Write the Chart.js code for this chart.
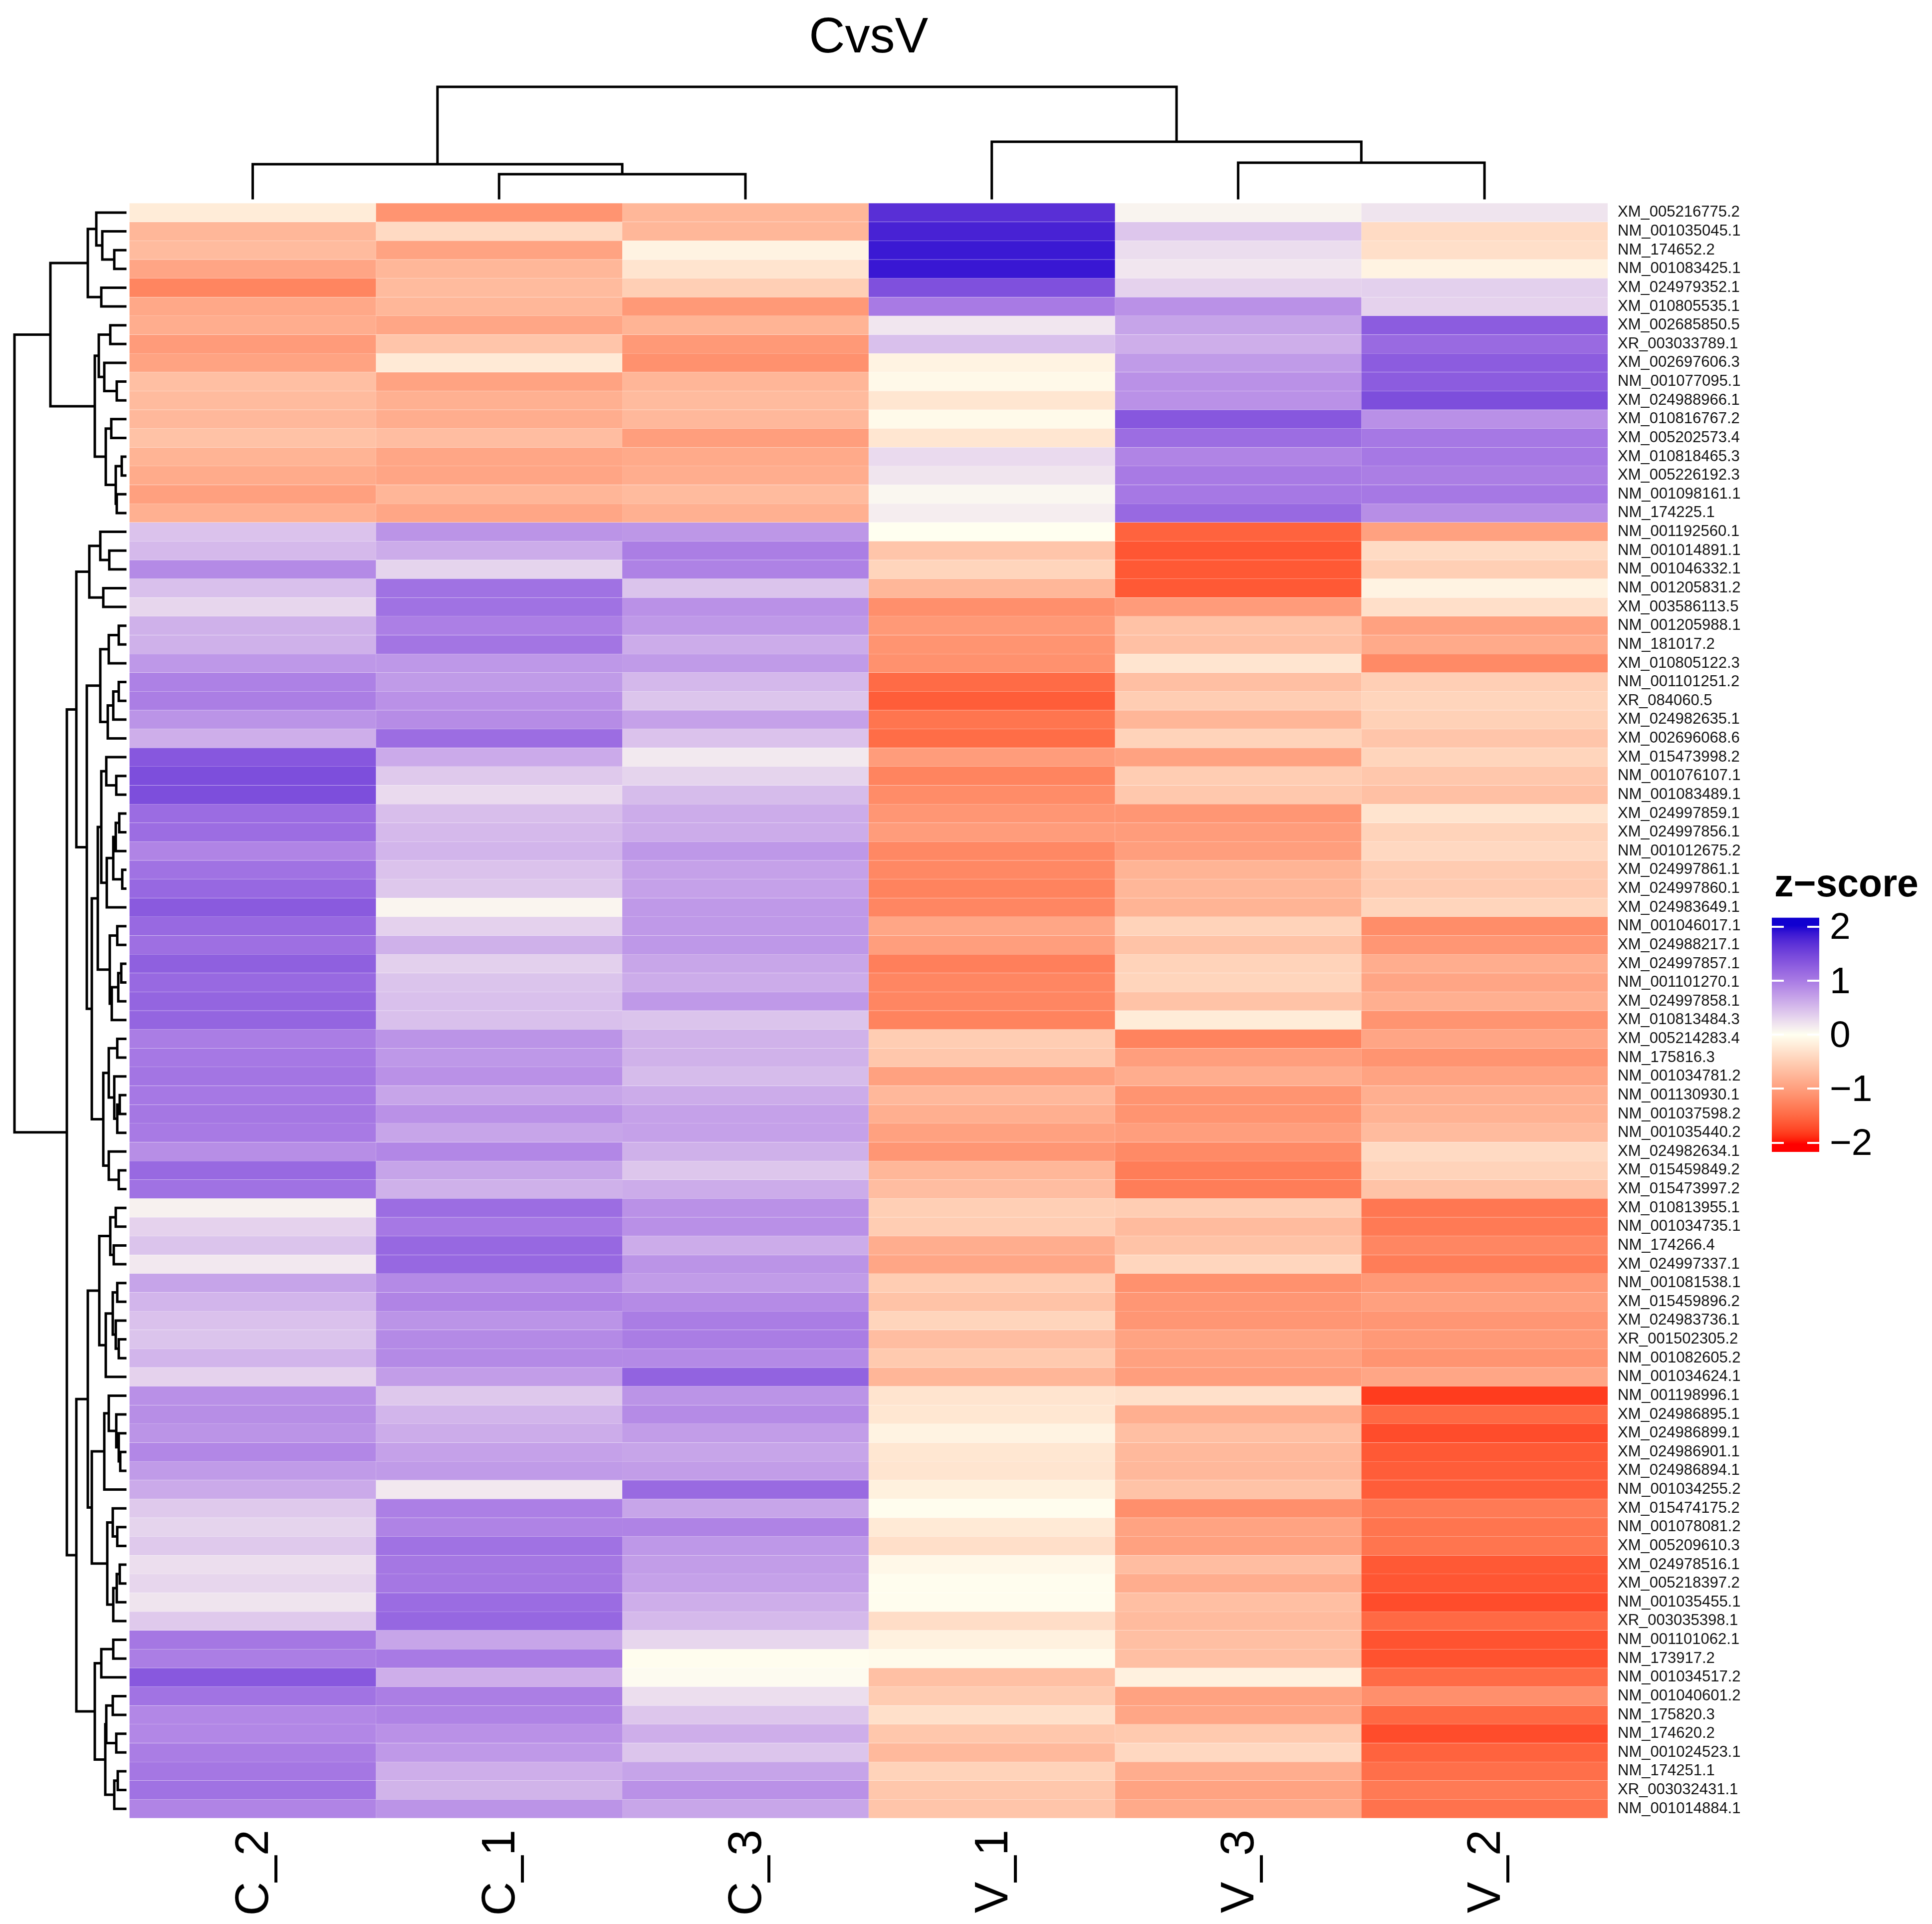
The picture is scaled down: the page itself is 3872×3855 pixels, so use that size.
<!DOCTYPE html>
<html>
<head>
<meta charset="utf-8">
<title>CvsV</title>
<script src="https://cdn.jsdelivr.net/npm/chart.js@4"></script>
<style>
	html, body { margin: 0; padding: 0; background: #fff; }
	canvas { position: absolute; }
	#heat { left: 0; top: 0; }
	#bar { left: 3551px; top: 1729px; }
</style>
</head>
<body>
<canvas id="heat" width="3872" height="3855"></canvas>
<canvas id="bar" width="321" height="611"></canvas>
<script>
const columnNames = ["C_2", "C_1", "C_3", "V_1", "V_3", "V_2"];

const rowNames = [
	"XM_005216775.2", "NM_001035045.1", "NM_174652.2", "NM_001083425.1", "XM_024979352.1", "XM_010805535.1",
	"XM_002685850.5", "XR_003033789.1", "XM_002697606.3", "NM_001077095.1", "XM_024988966.1", "XM_010816767.2",
	"XM_005202573.4", "XM_010818465.3", "XM_005226192.3", "NM_001098161.1", "NM_174225.1", "NM_001192560.1",
	"NM_001014891.1", "NM_001046332.1", "NM_001205831.2", "XM_003586113.5", "NM_001205988.1", "NM_181017.2",
	"XM_010805122.3", "NM_001101251.2", "XR_084060.5", "XM_024982635.1", "XM_002696068.6", "XM_015473998.2",
	"NM_001076107.1", "NM_001083489.1", "XM_024997859.1", "XM_024997856.1", "NM_001012675.2", "XM_024997861.1",
	"XM_024997860.1", "XM_024983649.1", "NM_001046017.1", "XM_024988217.1", "XM_024997857.1", "NM_001101270.1",
	"XM_024997858.1", "XM_010813484.3", "XM_005214283.4", "NM_175816.3", "NM_001034781.2", "NM_001130930.1",
	"NM_001037598.2", "NM_001035440.2", "XM_024982634.1", "XM_015459849.2", "XM_015473997.2", "XM_010813955.1",
	"NM_001034735.1", "NM_174266.4", "XM_024997337.1", "NM_001081538.1", "XM_015459896.2", "XM_024983736.1",
	"XR_001502305.2", "NM_001082605.2", "NM_001034624.1", "NM_001198996.1", "XM_024986895.1", "XM_024986899.1",
	"XM_024986901.1", "XM_024986894.1", "NM_001034255.2", "XM_015474175.2", "NM_001078081.2", "XM_005209610.3",
	"XM_024978516.1", "XM_005218397.2", "NM_001035455.1", "XR_003035398.1", "NM_001101062.1", "NM_173917.2",
	"NM_001034517.2", "NM_001040601.2", "NM_175820.3", "NM_174620.2", "NM_001024523.1", "NM_174251.1",
	"XR_003032431.1", "NM_001014884.1"
];

// z-scores, one list per column, rows top to bottom
const c2Values = [
	-.2, -.75, -.7, -.93, -1.25, -.9, -.85, -1.03, -.95, -.66, -.7, -.73, -.63, -.78, -.87, -.98, -.82,
	.45, .52, .88, .47, .3, .58, .58, .77, .95, .97, .8, .6, 1.33, 1.42, 1.42, 1.13, 1.12,
	.92, 1.08, 1.17, 1.3, 1.16, 1.1, 1.25, 1.16, 1.2, 1.2, .98, 1.02, 1.05, 1.02, 1.03, 1, .85, 1.16, 1.08,
	.1, .33, .44, .17, .68, .55, .46, .44, .55, .33, .83, .85, .8, .9, .75, .63, .4,
	.32, .4, .24, .3, .2, .4, 1.03, .97, 1.32, 1.07, .9, .9, .98, 1.03, 1.08, .92
];
const c1Values = [
	-1.1, -.38, -.95, -.75, -.7, -.75, -.92, -.6, -.22, -.95, -.82, -.85, -.68, -.92, -.93, -.76, -.92,
	.8, .62, .32, 1.08, 1.08, .96, 1.05, .77, .75, .82, .86, 1.12, .63, .4, .27, .48, .52,
	.55, .45, .41, .07, .34, .58, .35, .44, .47, .47, .8, .77, .82, .67, .82, .67, .9, .68, .58,
	1.12, 1.02, 1.17, 1.17, .88, .92, .8, .88, .88, .73, .41, .55, .62, .7, .75, .17, .96,
	.93, 1.08, 1.03, 1.03, 1.13, 1.18, .67, 1, .6, .97, .93, .82, .76, .6, .56, .8
];
const c3Values = [
	-.75, -.75, -.12, -.28, -.5, -1.05, -.78, -1.05, -1.13, -.76, -.7, -.73, -1, -.88, -.85, -.7, -.82,
	.78, .97, .94, .44, .82, .76, .62, .75, .53, .43, .7, .45, .16, .32, .5, .62, .62,
	.77, .7, .7, .76, .76, .77, .66, .62, .76, .44, .57, .57, .5, .62, .7, .7, .58, .42, .62,
	.82, .83, .62, .8, .74, .87, .98, .98, .88, 1.22, .8, .87, .73, .67, .73, 1.15, .67,
	.93, .77, .73, .7, .6, .52, .3, -.02, .03, .24, .42, .6, .43, .68, .82, .66
];
const v1Values = [
	1.7, 1.8, 1.87, 1.88, 1.4, 1, .18, .47, -.12, -.06, -.26, -.05, -.26, .27, .19, .06, .13,
	0, -.6, -.44, -.75, -1.15, -1.05, -1.1, -1.13, -1.48, -1.6, -1.4, -1.47, -1.02, -1.26, -1.18, -1.08, -1.02,
	-1.22, -1.22, -1.27, -1.24, -.92, -1, -1.3, -1.24, -1.24, -1.27, -.52, -.58, -.97, -.73, -.83, -.97, -1.08, -.75, -.68,
	-.5, -.52, -.85, -.92, -.52, -.62, -.44, -.68, -.55, -.76, -.28, -.25, -.12, -.25, -.27, -.15, -.02,
	-.22, -.33, -.07, -.02, -.02, -.35, -.14, -.04, -.65, -.53, -.32, -.58, -.72, -.46, -.58, -.6
];
const v3Values = [
	.08, .42, .25, .18, .33, .82, .68, .6, .75, .82, .82, 1.33, 1.12, .92, 1, 1.02, 1.16,
	-1.55, -1.65, -1.63, -1.63, -1.03, -.63, -.65, -.27, -.66, -.52, -.76, -.46, -.96, -.52, -.57, -1.08, -1.02,
	-1, -.78, -.75, -.78, -.46, -.62, -.46, -.44, -.62, -.2, -1.27, -1, -.85, -1.1, -1.1, -1, -1.2, -1.32, -1.32,
	-.52, -.7, -.62, -.42, -1.13, -1.08, -1.08, -.95, -.97, -1, -.32, -.83, -.66, -.72, -.73, -.62, -1.15,
	-.95, -.97, -.68, -.85, -.66, -.7, -.66, -.66, -.14, -.96, -.92, -.55, -.4, -.85, -.95, -.88
];
const v2Values = [
	.2, -.37, -.33, -.12, .35, .33, 1.28, 1.15, 1.28, 1.28, 1.42, .83, 1.02, 1.02, .97, 1.02, .85,
	-.97, -.37, -.5, -.12, -.33, -.97, -.88, -1.2, -.5, -.44, -.48, -.6, -.44, -.58, -.65, -.28, -.46,
	-.4, -.54, -.54, -.44, -1.17, -1.08, -.85, -.93, -.83, -1.1, -.93, -1.1, -.95, -.83, -.8, -.7, -.38, -.46, -.62,
	-1.38, -1.35, -1.24, -1.32, -1.05, -.98, -1.08, -1.05, -1.1, -.92, -1.82, -1.5, -1.72, -1.63, -1.6, -1.6, -1.35,
	-1.4, -1.4, -1.63, -1.65, -1.72, -1.5, -1.67, -1.68, -1.48, -1.15, -1.5, -1.72, -1.55, -1.45, -1.35, -1.42
];
const columnValues = [c2Values, c1Values, c3Values, v1Values, v3Values, v2Values];

// dendrograms: [height, child, child], 0 is a leaf, leaves run in display order
const colTree = [223, [68, 0, [48, 0, 0]], [113, 0, [71, 0, 0]]];

const rows1to6 = [75, [58, 0, [46, 0, [22, 0, 0]]], [48, 0, 0]];
const rows7to17 = [61, [53, [30, 0, 0], [42, 0, [17, 0, 0]]], [39, [28, 0, 0], [19, [7, 0, 0], [17, 0, 0]]]];
const rows18to22 = [72, [50, 0, [32, 0, 0]], [44, 0, 0]];
const rows23to29 = [50, [33, [13, 0, 0], 0], [35, [24, [13, 0, 0], 0], 0]];
const rows30to38 = [48, [38, 0, [18, 0, 0]], [37, [24, [19, [12, 0, 0], 0], [6, 0, 0]], 0]];
const rows39to44 = [31, [16, 0, 0], [27, [14, [8, 0, 0], 0], 0]];
const rows45to53 = [44, [33, [16, 0, 0], [22, 0, [16, [11, 0, 0], 0]]], [33, 0, [13, 0, 0]]];
const rows54to63 = [52, [30, [19, 0, 0], [23, 0, 0]], [39, [25, [16, 0, 0], [19, 0, [13, 0, 0]]], 0]];
const rows64to69 = [42, [33, 0, [18, 0, [13, 0, [10, 0, 0]]]], 0];
const rows70to76 = [36, [25, 0, [16, 0, 0]], [24, [17, [11, 0, 0], 0], 0]];
const rows77to86 = [61, [48, [24, 0, 0], 0], [40, [38, [25, 0, 0], [18, 0, 0]], [22, [15, 0, 0], 0]]];
const rowTree = [222,
	[150, rows1to6, rows7to17],
	[117,
		[98, rows18to22, [77, rows23to29, [67, [55, rows30to38, rows39to44], rows45to53]]],
		[98, [75, rows54to63, [67, rows64to69, rows70to76]], rows77to86]
	]
];

const legendTicks = [-2, -1, 0, 1, 2];

// colour ramp, mixed in Lab between neighbouring stops
const rampValues = [-2, -1, 0, 1, 2];
const rampColors = [[255, 0, 0], [255, 158, 125], [255, 255, 240], [168, 122, 228], [16, 0, 208]];

const fontFamily = "'Liberation Sans', Arial, sans-serif";

function toLab(rgb) {
	let c = rgb.map(v => {
		v /= 255;
		return v > 0.04045 ? Math.pow((v + 0.055) / 1.055, 2.4) : v / 12.92;
	});
	let f = t => t > 0.008856 ? Math.cbrt(t) : 7.787 * t + 16 / 116;
	let x = f((0.4124 * c[0] + 0.3576 * c[1] + 0.1805 * c[2]) / 0.95047);
	let y = f(0.2126 * c[0] + 0.7152 * c[1] + 0.0722 * c[2]);
	let z = f((0.0193 * c[0] + 0.1192 * c[1] + 0.9505 * c[2]) / 1.08883);
	return [116 * y - 16, 500 * (x - y), 200 * (y - z)];
}

function fromLab(lab) {
	let y = (lab[0] + 16) / 116;
	let g = t => t * t * t > 0.008856 ? t * t * t : (t - 16 / 116) / 7.787;
	let X = 0.95047 * g(y + lab[1] / 500), Y = g(y), Z = 1.08883 * g(y - lab[2] / 200);
	let rgb = [
		3.2406 * X - 1.5372 * Y - 0.4986 * Z,
		-0.9689 * X + 1.8758 * Y + 0.0415 * Z,
		0.0557 * X - 0.204 * Y + 1.057 * Z
	];
	return rgb.map(v => {
		v = Math.min(1, Math.max(0, v));
		v = v > 0.0031308 ? 1.055 * Math.pow(v, 1 / 2.4) - 0.055 : 12.92 * v;
		return Math.round(v * 255);
	});
}

const rampLab = rampColors.map(toLab);

function zColor(z) {
	z = Math.min(2, Math.max(-2, z));
	let i = Math.min(rampValues.length - 2, Math.floor(z + 2));
	let t = (z - rampValues[i]) / (rampValues[i + 1] - rampValues[i]);
	let rgb = fromLab(rampLab[i].map((v, k) => v + (rampLab[i + 1][k] - v) * t));
	return "rgb(" + rgb.join(",") + ")";
}

function treeSegments(tree, horizontal) {
	let points = [];
	let next = 0;
	function walk(node) {
		if (node === 0) {
			return { pos: 0.5 + next++, h: 0 };
		}
		let a = walk(node[1]);
		let b = walk(node[2]);
		let path = [[a.h, a.pos], [node[0], a.pos], [node[0], b.pos], [b.h, b.pos]];
		path.forEach(p => {
			points.push(horizontal ? { x: p[0], y: p[1] } : { x: p[1], y: p[0] });
		});
		points.push({ x: NaN, y: NaN });
		return { pos: (a.pos + b.pos) / 2, h: node[0] };
	}
	walk(tree);
	return points;
}

let datasets = columnValues.map((values, col) => ({
	data: values.map((v, row) => ({ x: col + 0.5, y: [row + 0.005, row + 0.995] })),
	backgroundColor: values.map(zColor),
	inflateAmount: 0,
	grouped: false,
	barPercentage: 1,
	categoryPercentage: 1
}));

function treeDataset(points, xAxisID, yAxisID) {
	return {
		type: "scatter",
		data: points,
		xAxisID: xAxisID,
		yAxisID: yAxisID,
		showLine: true,
		spanGaps: false,
		pointRadius: 0,
		borderColor: "#000",
		borderWidth: 5,
		borderJoinStyle: "miter",
		borderCapStyle: "square"
	};
}
datasets.push(treeDataset(treeSegments(rowTree, true), "xTree", "y"));
datasets.push(treeDataset(treeSegments(colTree, false), "x", "yTree"));

// puts the title over the cells instead of the whole canvas
const centerTitle = {
	id: "centerTitle",
	afterLayout(chart) {
		chart.titleBlock.left = chart.scales.x.getPixelForValue(0);
		chart.titleBlock.right = chart.scales.x.getPixelForValue(6);
	}
};

const nudgeLegendTitle = {
	id: "nudgeLegendTitle",
	afterLayout(chart) {
		chart.titleBlock.left = 5;
	}
};

new Chart(document.getElementById("heat"), {
	type: "bar",
	data: { datasets: datasets },
	plugins: [centerTitle],
	options: {
		responsive: false,
		animation: false,
		devicePixelRatio: 1,
		layout: { padding: 0 },
		plugins: {
			legend: { display: false },
			tooltip: { enabled: false },
			title: {
				display: true,
				text: "CvsV",
				color: "#000",
				font: { family: fontFamily, size: 100, weight: "normal", lineHeight: 1.2 },
				padding: { top: 17, bottom: 15 }
			}
		},
		scales: {
			x: {
				type: "linear",
				position: "bottom",
				offset: false,
				min: -0.5258,
				max: 6,
				grid: { display: false },
				border: { display: false },
				afterBuildTicks(axis) {
					axis.ticks = columnNames.map((n, i) => ({ value: i + 0.5 }));
				},
				afterFit(axis) {
					axis.height = 212;
					axis.paddingLeft = 0;
					axis.paddingRight = 0;
				},
				ticks: {
					autoSkip: false,
					minRotation: 90,
					maxRotation: 90,
					padding: 15,
					labelOffset: 5,
					color: "#000",
					font: { family: fontFamily, size: 94 },
					callback: (v, i) => columnNames[i]
				}
			},
			y: {
				type: "linear",
				position: "right",
				reverse: true,
				min: -6.78,
				max: 86,
				grid: { display: false },
				border: { display: false },
				afterBuildTicks(axis) {
					axis.ticks = rowNames.map((n, i) => ({ value: i + 0.5 }));
				},
				afterFit(axis) {
					axis.width = 650;
					axis.paddingTop = 0;
					axis.paddingBottom = 0;
				},
				ticks: {
					autoSkip: false,
					padding: 12,
					color: "#111",
					font: { family: fontFamily, size: 31 },
					callback: (v, i) => rowNames[i]
				}
			},
			xTree: { type: "linear", display: false, offset: false, reverse: true, min: -2971, max: 251 },
			yTree: { type: "linear", display: false, offset: false, min: -3246, max: 245 }
		}
	}
});

new Chart(document.getElementById("bar"), {
	type: "bar",
	data: {
		labels: ["z-score"],
		datasets: [{
			data: [[-2.17, 2.17]],
			inflateAmount: 0,
			barPercentage: 1,
			categoryPercentage: 1,
			backgroundColor(ctx) {
				let area = ctx.chart.chartArea;
				if (!area) { return "#fff"; }
				let g = ctx.chart.ctx.createLinearGradient(0, area.bottom, 0, area.top);
				for (let i = 0; i <= 60; i++) {
					g.addColorStop(i / 60, zColor(-2.17 + 4.34 * i / 60));
				}
				return g;
			}
		}]
	},
	plugins: [nudgeLegendTitle],
	options: {
		responsive: false,
		animation: false,
		devicePixelRatio: 1,
		layout: { padding: { bottom: 32 } },
		plugins: {
			legend: { display: false },
			tooltip: { enabled: false },
			title: {
				display: true,
				text: "z\u2212score",
				align: "start",
				color: "#000",
				font: { family: fontFamily, size: 77, weight: "bold", lineHeight: 1.2 },
				padding: { top: 0, bottom: 17 }
			}
		},
		scales: {
			x: { display: false },
			y: {
				position: "right",
				min: -2.17,
				max: 2.17,
				grid: { z: 1, color: "#fff", lineWidth: 4, drawTicks: false },
				border: { display: false, dash: [24, 47] },
				afterBuildTicks(axis) {
					axis.ticks = legendTicks.map(v => ({ value: v }));
				},
				afterFit(axis) {
					axis.width = 226;
					axis.paddingTop = 0;
					axis.paddingBottom = 0;
				},
				ticks: {
					padding: 21,
					labelOffset: 4,
					color: "#000",
					font: { family: fontFamily, size: 75 },
					callback: v => String(v).replace("-", "\u2212")
				}
			}
		}
	}
});
</script>
</body>
</html>
